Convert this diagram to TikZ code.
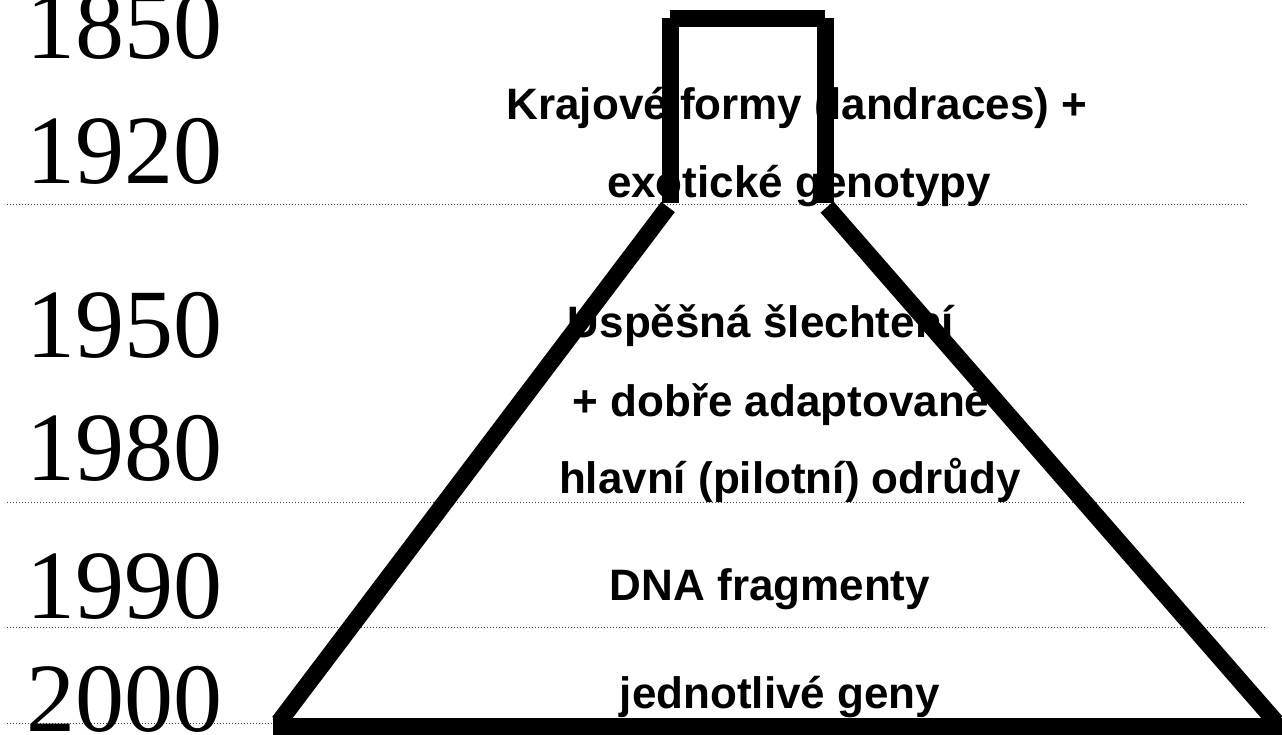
\documentclass[tikz,border=0pt]{standalone}
\usepackage{fontspec}
\setmainfont{Liberation Serif}
\newfontfamily\sansb{Liberation Sans}
\begin{document}
\begin{tikzpicture}[x=1pt,y=-1pt,
  year/.style={anchor=base west,inner sep=0pt,outer sep=0pt,font=\fontsize{98}{98}\selectfont},
  lbl/.style={anchor=base,inner sep=0pt,outer sep=0pt,font=\sansb\bfseries\fontsize{44}{44}\selectfont},
  flask/.style={line width=17pt,line cap=butt,line join=miter},
  guide/.style={line width=1pt,black!75,dash pattern=on 1pt off 2pt}]
\useasboundingbox (0,0) rectangle (1282,734);

% guide lines
\coordinate (g1a) at (7,204);   \coordinate (g1b) at (1248,204);
\coordinate (g2a) at (7,502);   \coordinate (g2b) at (1244,502);
\coordinate (g3a) at (7,627);   \coordinate (g3b) at (1266,627);
\coordinate (g4a) at (7,723);   \coordinate (g4b) at (272,723);
\draw[guide] (g1a) -- (g1b);
\draw[guide] (g2a) -- (g2b);
\draw[guide] (g3a) -- (g3b);
\draw[guide] (g4a) -- (g4b);

% years
\node[year] (y1850) at (27,58) {1850};
\node[year] (y1920) at (27,183) {1920};
\node[year] (y1950) at (27,357) {1950};
\node[year] (y1980) at (27,480) {1980};
\node[year] (y1990) at (27,618) {1990};
\node[year] (y2000) at (27,731) {2000};

% labels
\node[lbl] (t1) at (797,119) {Krajové formy (landraces) +};
\node[lbl] (t2) at (799,197) {exotické genotypy};
\node[lbl] (t3) at (761,337) {Uspěšná šlechtení};
\node[lbl] (t4) at (781,416) {+ dobře adaptované};
\node[lbl] (t5) at (790,493) {hlavní (pilotní) odrůdy};
\node[lbl] (t6) at (770,600) {DNA fragmenty};
\node[lbl] (t7) at (780,708) {jednotlivé geny};

% flask
\coordinate (nl) at (670,203);
\coordinate (nlt) at (670,18);
\coordinate (nrt) at (825,18);
\coordinate (nr) at (825,203);
\coordinate (topl) at (670,18);
\coordinate (topr) at (825,18);
\coordinate (dl1) at (668,207);
\coordinate (dl2) at (279,722);
\coordinate (dr1) at (827,207);
\coordinate (dr2) at (1276,722);
\coordinate (b1) at (273,726);
\coordinate (b2) at (1290,726);
\draw[flask] (nlt) -- (nl);
\draw[flask] (nrt) -- (nr);
\draw[flask] (topl) -- (topr);
\draw[flask] (dl1) -- (dl2);
\draw[flask] (dr1) -- (dr2);
\draw[flask] (b1) -- (b2);
\end{tikzpicture}
\end{document}
